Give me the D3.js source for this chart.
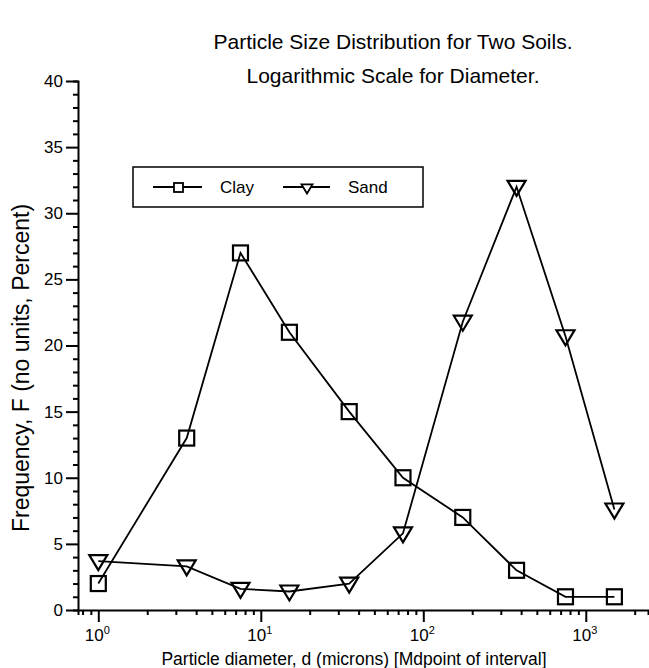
<!DOCTYPE html>
<html>
<head>
<meta charset="utf-8">
<script src="https://cdn.jsdelivr.net/npm/d3@7"></script>
<style>
  html, body { margin: 0; padding: 0; background: #fff; }
  svg { display: block; font-family: "Liberation Sans", Arial, Helvetica, sans-serif; }
</style>
</head>
<body>
<svg id="chart" width="649" height="668"></svg>
<script>
// ---- data ----
const diameters = [1, 3.5, 7.5, 15, 35, 75, 175, 375, 750, 1500];
const clay = [2, 13, 27, 21, 15, 10, 7, 3, 1, 1];
const sand = [3.7, 3.3, 1.6, 1.4, 2.0, 5.8, 21.8, 32, 20.7, 7.6];
const yTicks = [0, 5, 10, 15, 20, 25, 30, 35, 40];
const xMajorTicks = [1, 10, 100, 1000];
const xTickExponents = ["0", "1", "2", "3"];
const titleLines = ["Particle Size Distribution for Two Soils.", "Logarithmic Scale for Diameter."];
const xTitle = "Particle diameter, d (microns) [Mdpoint of interval]";
const yTitle = "Frequency, F (no units, Percent)";
const seriesNames = ["Clay", "Sand"];

const svg = d3.select("#chart");

const x = d3.scaleLog().domain([0.75, 2415]).range([78, 648]);
const y = d3.scaleLinear().domain([0, 40]).range([610, 81]);

// minor ticks
const xMinor = [];
[0.1, 1, 10, 100, 1000].forEach(dec => {
  for (let k = 2; k <= 9; k++) {
    const v = dec * k;
    if (v >= 0.75 && v <= 2415) xMinor.push(v);
  }
});
const yMinor = d3.range(0, 41, 1).filter(v => v % 5 !== 0);

// ---- axes ----
const gx = svg.append("g").attr("transform", `translate(0,${y(0)})`);
gx.call(d3.axisBottom(x).tickValues(xMinor).tickSize(5).tickFormat(""))
  .call(g => g.selectAll("line").attr("stroke", "#000").attr("stroke-width", 2))
  .call(g => g.select(".domain").attr("stroke", "#000").attr("stroke-width", 2));
const gxMaj = svg.append("g").attr("transform", `translate(0,${y(0)})`);
gxMaj.call(d3.axisBottom(x).tickValues(xMajorTicks).tickSize(12).tickFormat(""))
  .call(g => g.selectAll("line").attr("stroke", "#000").attr("stroke-width", 2))
  .call(g => g.select(".domain").remove());
// x tick labels with superscripts
xMajorTicks.forEach((v, i) => {
  const t = svg.append("text")
    .attr("x", x(v) - 1)
    .attr("y", 641)
    .attr("text-anchor", "middle")
    .attr("font-size", 17)
    .attr("fill", "#000");
  t.append("tspan").text("10");
  t.append("tspan").attr("dy", -7).attr("font-size", 11).text(xTickExponents[i]);
});

const gy = svg.append("g").attr("transform", `translate(${x(0.75)},0)`);
gy.call(d3.axisLeft(y).tickValues(yMinor).tickSize(5).tickFormat(""))
  .call(g => g.selectAll("line").attr("stroke", "#000").attr("stroke-width", 2))
  .call(g => g.select(".domain").attr("stroke", "#000").attr("stroke-width", 2));
const gyMaj = svg.append("g").attr("transform", `translate(${x(0.75)},0)`);
gyMaj.call(d3.axisLeft(y).tickValues(yTicks).tickSize(12).tickPadding(3).tickFormat(d3.format("d")))
  .call(g => g.selectAll("line").attr("stroke", "#000").attr("stroke-width", 2))
  .call(g => g.select(".domain").remove())
  .call(g => g.selectAll("text").attr("font-size", 17).attr("fill", "#000")
    .attr("font-family", "Liberation Sans, Arial, sans-serif"));

// ---- titles ----
svg.append("text").attr("x", 393).attr("y", 49).attr("text-anchor", "middle")
  .attr("font-size", 21).attr("fill", "#000").text(titleLines[0]);
svg.append("text").attr("x", 393).attr("y", 83).attr("text-anchor", "middle")
  .attr("font-size", 21).attr("fill", "#000").text(titleLines[1]);
svg.append("text").attr("x", 354).attr("y", 665).attr("text-anchor", "middle")
  .attr("font-size", 17.5).attr("fill", "#000").text(xTitle);
svg.append("text").attr("transform", `translate(29,368) rotate(-90)`)
  .attr("text-anchor", "middle").attr("font-size", 23).attr("fill", "#000").text(yTitle);

// ---- lines & markers ----
const line = d3.line().x(d => x(d[0])).y(d => y(d[1]));
const clayPts = diameters.map((d, i) => [d, clay[i]]);
const sandPts = diameters.map((d, i) => [d, sand[i]]);

svg.append("path").datum(clayPts).attr("d", line)
  .attr("fill", "none").attr("stroke", "#000").attr("stroke-width", 1.8);
svg.append("path").datum(sandPts).attr("d", line)
  .attr("fill", "none").attr("stroke", "#000").attr("stroke-width", 1.8);

const sq = 15;
svg.append("g").selectAll("rect").data(clayPts).join("rect")
  .attr("x", d => x(d[0]) - sq / 2).attr("y", d => y(d[1]) - sq / 2)
  .attr("width", sq).attr("height", sq)
  .attr("fill", "none").attr("stroke", "#000").attr("stroke-width", 2.2);

const tri = (cx, cy, w, h) => `M${cx - w / 2},${cy - h * 0.4}L${cx + w / 2},${cy - h * 0.4}L${cx},${cy + h * 0.6}Z`;
svg.append("g").selectAll("path").data(sandPts).join("path")
  .attr("d", d => tri(x(d[0]), y(d[1]), 18, 15))
  .attr("fill", "none").attr("stroke", "#000").attr("stroke-width", 2.2);

// ---- legend ----
const lg = svg.append("g");
lg.append("rect").attr("x", 133).attr("y", 167).attr("width", 290).attr("height", 40)
  .attr("fill", "#fff").attr("stroke", "#000").attr("stroke-width", 1.5);
lg.append("line").attr("x1", 153).attr("x2", 202).attr("y1", 187).attr("y2", 187)
  .attr("stroke", "#000").attr("stroke-width", 1.8);
lg.append("rect").attr("x", 174).attr("y", 183).attr("width", 9).attr("height", 9)
  .attr("fill", "#fff").attr("stroke", "#000").attr("stroke-width", 1.8);
lg.append("text").attr("x", 220).attr("y", 193).attr("font-size", 17).attr("fill", "#000").text(seriesNames[0]);
lg.append("line").attr("x1", 283).attr("x2", 330).attr("y1", 187).attr("y2", 187)
  .attr("stroke", "#000").attr("stroke-width", 1.8);
lg.append("path").attr("d", tri(307, 188, 11, 9))
  .attr("fill", "#fff").attr("stroke", "#000").attr("stroke-width", 1.8);
lg.append("text").attr("x", 348).attr("y", 193).attr("font-size", 17).attr("fill", "#000").text(seriesNames[1]);
</script>
</body>
</html>
